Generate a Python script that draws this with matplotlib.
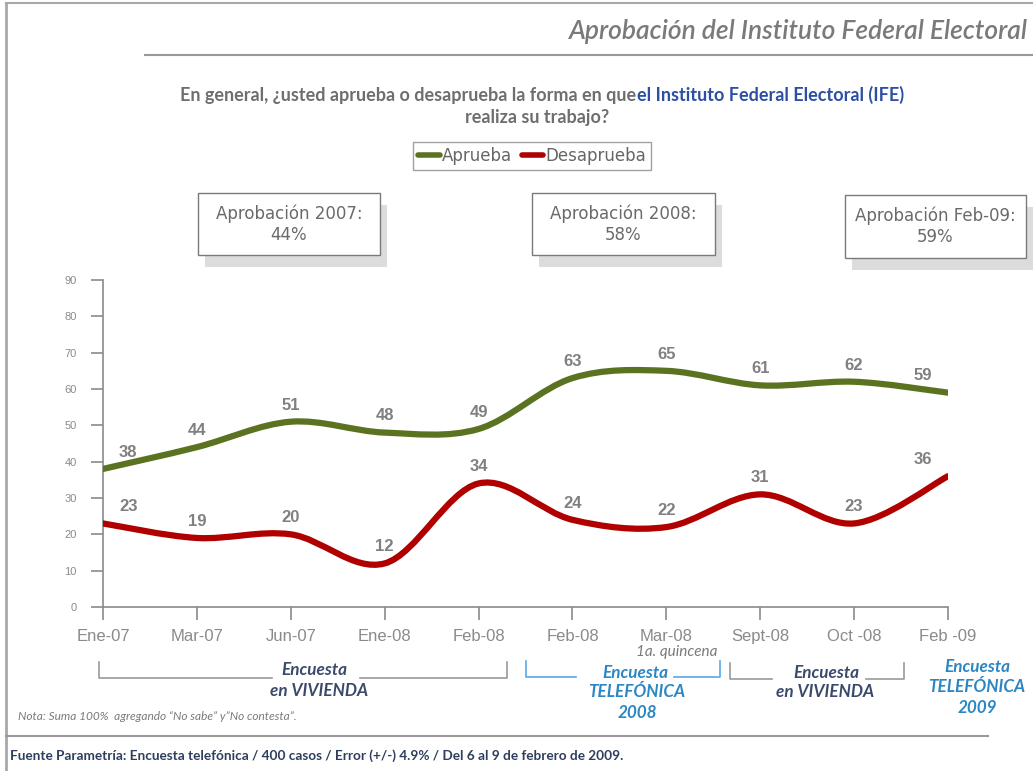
import matplotlib
matplotlib.use("Agg")
import matplotlib.pyplot as plt
from matplotlib.path import Path
from matplotlib.patches import PathPatch, Rectangle
from matplotlib.lines import Line2D
import numpy as np

# data
periodos = ["Ene-07", "Mar-07", "Jun-07", "Ene-08", "Feb-08",
            "Feb-08", "Mar-08", "Sept-08", "Oct -08", "Feb -09"]
aprueba = [38, 44, 51, 48, 49, 63, 65, 61, 62, 59]
desaprueba = [23, 19, 20, 12, 34, 24, 22, 31, 23, 36]
resumen = ["Aprobación 2007:\n44%", "Aprobación 2008:\n58%", "Aprobación Feb-09:\n59%"]

VERDE = "#5b7321"
ROJO = "#b00000"
GRIS = "#808080"
AZUL_OSC = "#3b4a6b"
AZUL = "#2b87c3"

W, H = 1033, 771
fig = plt.figure(figsize=(W / 100, H / 100), dpi=100)


def fx(x):
    return x / W


def fy(y):
    return 1 - y / H


def fline(xs, ys, color, lw=1.0):
    fig.add_artist(Line2D([fx(v) for v in xs], [fy(v) for v in ys],
                          color=color, lw=lw, transform=fig.transFigure))


def ftext(x, y, s, **kw):
    fig.text(fx(x), fy(y), s, transform=fig.transFigure, **kw)


def smooth_path(xs, ys):
    # catmull-rom converted to cubic bezier segments (like excel smoothed lines)
    p = np.column_stack([xs, ys]).astype(float)
    pts = np.vstack([p[0], p, p[-1]])
    verts = [tuple(p[0])]
    codes = [Path.MOVETO]
    for i in range(1, len(pts) - 2):
        c1 = pts[i] + (pts[i + 1] - pts[i - 1]) / 6
        c2 = pts[i + 1] - (pts[i + 2] - pts[i]) / 6
        verts += [tuple(c1), tuple(c2), tuple(pts[i + 1])]
        codes += [Path.CURVE4] * 3
    return Path(verts, codes)


# frame lines of the slide
fline([6, W], [3, 3], "#a8a8a8", 1.5)
fline([6, 6], [3, H], "#a8a8a8", 2)
fline([145, W], [55, 55], "#999999", 1.5)
fline([6, 988], [736, 736], "#999999", 1.5)

ftext(1028, 31, "Aprobación del Instituto Federal Electoral", ha="right", va="center",
      fontsize=19, style="italic", weight="semibold", color="#7a7a7a", family="Lato")

ftext(636, 95, "En general, ¿usted aprueba o desaprueba la forma en que", ha="right",
      va="center", fontsize=13, weight="bold", color="#6e6e6e", family="Lato")
ftext(637, 95, "el Instituto Federal Electoral (IFE)", ha="left", va="center",
      fontsize=13, weight="bold", color="#2d4fa3", family="Lato")
ftext(537, 117, "realiza su trabajo?", ha="center", va="center",
      fontsize=13, weight="bold", color="#6e6e6e", family="Lato")

# summary boxes with drop shadow
cajas = [(198, 193, 380, 255), (532, 193, 715, 255), (845, 195, 1026, 258)]
for (x0, y0, x1, y1), txt in zip(cajas, resumen):
    fig.add_artist(Rectangle((fx(x0 + 7), fy(y1 + 12)), fx(x1 - x0), (y1 - y0) / H,
                             transform=fig.transFigure, fc="#dcdcdc", ec="none"))
    fig.add_artist(Rectangle((fx(x0), fy(y1)), fx(x1 - x0), (y1 - y0) / H,
                             transform=fig.transFigure, fc="white", ec="#7a7a7a", lw=1))
    ftext((x0 + x1) / 2, (y0 + y1) / 2, txt, ha="center", va="center", fontsize=12,
          color="#6a6a6a", family="DejaVu Sans", linespacing=1.25)

# chart
ax = fig.add_axes([fx(103), fy(607), fx(948 - 103), (607 - 280) / H])
x = np.arange(len(periodos))
ax.add_patch(PathPatch(smooth_path(x, aprueba), fill=False, ec=VERDE, lw=4.5,
                       capstyle="round", zorder=3))
ax.add_patch(PathPatch(smooth_path(x, desaprueba), fill=False, ec=ROJO, lw=4.5,
                       capstyle="round", zorder=3))
ax.set_xlim(0, len(periodos) - 1)
ax.set_ylim(0, 90)

lab_x = x.astype(float)
lab_x[0] += 0.27
lab_x[-1] -= 0.27
for serie in (aprueba, desaprueba):
    for xi, v in zip(lab_x, serie):
        ax.annotate(str(v), (xi, v), xytext=(0, 12), textcoords="offset points",
                    ha="center", va="center", fontsize=12, weight="bold",
                    color=GRIS, family="Liberation Sans")

ax.set_yticks(range(0, 91, 10))
ax.set_xticks(x)
ax.set_xticklabels(periodos)
for s in ("top", "right"):
    ax.spines[s].set_visible(False)
for s in ("left", "bottom"):
    ax.spines[s].set_color("#8a8a8a")
    ax.spines[s].set_linewidth(1.2)
ax.tick_params(axis="y", length=9, width=1.2, color="#8a8a8a", labelsize=8,
               labelcolor="#8a8a8a", pad=10)
ax.tick_params(axis="x", length=9, width=1.2, color="#8a8a8a", labelsize=12,
               labelcolor="#8a8a8a", pad=7)
for t in ax.get_xticklabels() + ax.get_yticklabels():
    t.set_family("Liberation Sans")
ax.set_facecolor("none")

# legend
handles = [Line2D([], [], color=VERDE, lw=4, solid_capstyle="round"),
           Line2D([], [], color=ROJO, lw=4, solid_capstyle="round")]
leg = fig.legend(handles, ["Aprueba", "Desaprueba"], loc="center",
                 bbox_to_anchor=(fx(532), fy(156)), ncol=2, fancybox=False,
                 edgecolor="#8a8a8a", handlelength=1.3, handletextpad=0.1,
                 columnspacing=0.6, borderpad=0.3, prop={"family": "DejaVu Sans", "size": 12})
for t in leg.get_texts():
    t.set_color("#666666")
leg.get_frame().set_linewidth(1)

ftext(677, 652, "1a. quincena", ha="center", va="center", fontsize=11,
      style="italic", color="#7a7a7a", family="Lato")

# survey-type brackets
def bracket(x0, x1, g0, g1, y0, y1, color):
    fline([x0, x0, g0], [y0, y1, y1], color, 1.2)
    fline([g1, x1, x1], [y1, y1, y0], color, 1.2)


bracket(99, 507, 272, 360, 662, 678, "#9a9a9a")
bracket(526, 720, 576, 674, 661, 677, "#5aa8e6")
bracket(730, 904, 772, 866, 663, 679, "#9a9a9a")

kw = dict(ha="center", va="center", fontsize=12.3, weight="bold", style="italic",
          family="Lato")
ftext(314, 670, "Encuesta", color=AZUL_OSC, **kw)
ftext(319, 691, "en VIVIENDA", color=AZUL_OSC, **kw)
ftext(635, 673, "Encuesta", color=AZUL, **kw)
ftext(637, 692, "TELEFÓNICA", color=AZUL, **kw)
ftext(637, 713, "2008", color=AZUL, **kw)
ftext(826, 673, "Encuesta", color=AZUL_OSC, **kw)
ftext(825, 692, "en VIVIENDA", color=AZUL_OSC, **kw)
ftext(977, 667, "Encuesta", color=AZUL, **kw)
ftext(977, 687, "TELEFÓNICA", color=AZUL, **kw)
ftext(977, 708, "2009", color=AZUL, **kw)

ftext(18, 716, "Nota: Suma 100%  agregando “No sabe” y”No contesta”.", ha="left",
      va="center", fontsize=8.6, style="italic", color="#7a7a7a", family="Lato")
ftext(10, 756, "Fuente Parametría: Encuesta telefónica / 400 casos / Error (+/-) 4.9% / "
      "Del 6 al 9 de febrero de 2009.", ha="left", va="center", fontsize=9.8,
      weight="bold", color="#2e3e5e", family="Lato")

fig.savefig("out.png", dpi=100)
